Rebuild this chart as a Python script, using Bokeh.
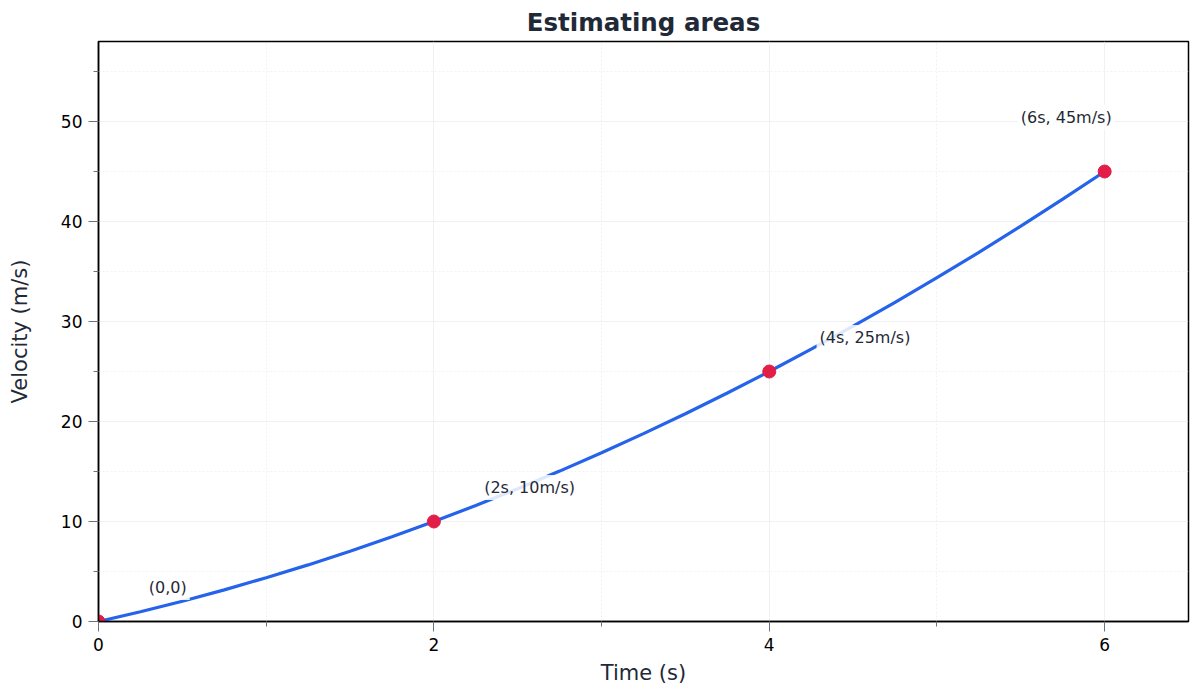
from bokeh.plotting import figure
from bokeh.models import Range1d, ColumnDataSource, FixedTicker
from bokeh.core.properties import value
from bokeh.embed import file_html
from bokeh.resources import INLINE

# Data
curve_t = [0, 0.25, 0.5, 0.75, 1, 1.25, 1.5, 1.75, 2, 2.25, 2.5, 2.75, 3, 3.25,
           3.5, 3.75, 4, 4.25, 4.5, 4.75, 5, 5.25, 5.5, 5.75, 6]
curve_v = [0, 0.98, 2.03, 3.16, 4.38, 5.66, 7.03, 8.48, 10, 11.60, 13.28, 15.04,
           16.88, 18.79, 20.78, 22.85, 25, 27.23, 29.53, 31.91, 34.38, 36.91,
           39.53, 42.23, 45]
point_t = [0, 2, 4, 6]
point_v = [0, 10, 25, 45]
label_x = [0.3, 2.3, 4.3, 5.5]
label_y = [3, 13, 28, 50]
label_text = ["(0,0)", "(2s, 10m/s)", "(4s, 25m/s)", "(6s, 45m/s)"]
x_ticks = [0, 2, 4, 6]
y_ticks = [0, 10, 20, 30, 40, 50]

FONT = "DejaVu Sans"

p = figure(width=1200, height=695, output_backend="svg", toolbar_location=None,
           x_range=Range1d(0, 6.5), y_range=Range1d(0, 58),
           title="Estimating areas")
p.min_border_left = 98
p.min_border_right = 12
p.min_border_top = 41
p.min_border_bottom = 74

p.title.align = "center"
p.title.text_font = FONT
p.title.text_font_size = "24.5px"
p.title.text_font_style = "bold"
p.title.text_color = "#1f2937"

p.outline_line_color = "black"
p.outline_line_width = 1.5
p.outline_line_alpha = 1

for ax in (p.xaxis[0], p.yaxis[0]):
    ax.axis_line_color = "black"
    ax.axis_line_width = 1.5
    ax.major_tick_line_color = "#6b7280"
    ax.minor_tick_line_color = "#6b7280"
    ax.major_tick_out = 10
    ax.major_tick_in = 0
    ax.minor_tick_out = 5
    ax.minor_tick_in = 0
    ax.major_label_standoff = 6
    ax.major_label_text_font = FONT
    ax.major_label_text_font_size = "17px"
    ax.major_label_text_color = "black"
    ax.axis_label_text_font = FONT
    ax.axis_label_text_font_size = "21px"
    ax.axis_label_text_font_style = "normal"
    ax.axis_label_text_color = "#1f2937"

p.xaxis.axis_label_standoff = 7
p.yaxis.axis_label_standoff = 26

p.xaxis.ticker = FixedTicker(ticks=x_ticks, minor_ticks=[1, 3, 5])
p.yaxis.ticker = FixedTicker(ticks=y_ticks, minor_ticks=[5, 15, 25, 35, 45, 55])
p.xaxis.axis_label = "Time (s)"
p.yaxis.axis_label = "Velocity (m/s)"

for g in (p.xgrid[0], p.ygrid[0]):
    g.grid_line_color = "#e5e7eb"
    g.grid_line_alpha = 0.6
    g.minor_grid_line_color = "#e5e7eb"
    g.minor_grid_line_alpha = 0.6
    g.minor_grid_line_dash = "2 2"

p.line(curve_t, curve_v, line_color="#2563eb", line_width=3.2)

p.scatter(point_t, point_v, size=13, fill_color="#e11d48", line_color="#e11d48")

src = ColumnDataSource(dict(x=label_x, y=label_y, t=label_text))
p.text(x="x", y="y", text="t", source=src, text_font=value(FONT),
       text_font_size="16px", text_color="#1f2937", text_baseline="middle",
       text_align="left", background_fill_color="white",
       background_fill_alpha=0.85, padding=3, x_offset=-3, y_offset=-4)

open("out.html", "w").write(file_html(p, INLINE))
